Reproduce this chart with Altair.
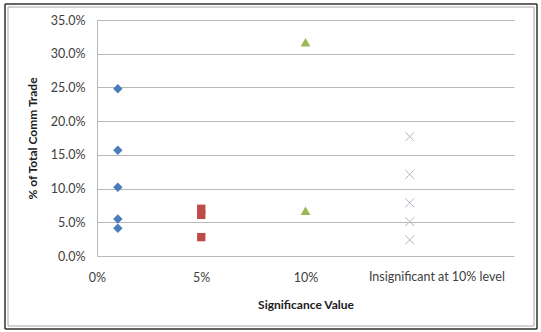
import altair as alt
import pandas as pd

# Share of total commodity trade, grouped by significance level
sig_1pct = [0.248, 0.157, 0.102, 0.055, 0.041]
sig_5pct = [0.070, 0.061, 0.028]
sig_10pct = [0.317, 0.067]
insignificant = [0.177, 0.121, 0.079, 0.051, 0.024]

y_ticks = [0, 0.05, 0.10, 0.15, 0.20, 0.25, 0.30, 0.35]
x_ticks = [0, 0.05, 0.10]

x_positions = {"1%": 0.01, "5%": 0.05, "10%": 0.10, "insig": 0.15}

def frame(vals, key):
    return pd.DataFrame({"sig": [x_positions[key]] * len(vals), "share": vals})

FONT = "Lato"
LABEL_SIZE = 12.5

x_scale = alt.Scale(domain=[0, 0.2], nice=False)
y_scale = alt.Scale(domain=[0, 0.35], nice=False)

x_enc = alt.X(
    "sig:Q", scale=x_scale,
    axis=alt.Axis(
        values=x_ticks,
        format=".0%", labelFlush=False, labelOverlap=False,
        grid=False, ticks=False, domain=False,
        labelPadding=15, labelFontSize=LABEL_SIZE, labelColor="#404040", labelFont=FONT,
        title="Significance Value", titleFont=FONT, titleFontSize=12,
        titleFontWeight="bold", titleColor="#202020", titlePadding=16,
    ),
)
y_enc = alt.Y(
    "share:Q", scale=y_scale,
    axis=alt.Axis(
        values=y_ticks,
        format=".1%", labelOverlap=False, labelFlush=False,
        grid=True, gridColor="#B8B8B8", gridWidth=1,
        ticks=False, domain=True, domainColor="#B8B8B8",
        labelPadding=12, labelFontSize=LABEL_SIZE, labelColor="#404040", labelFont=FONT,
        title="% of Total Comm Trade", titleFont=FONT, titleFontSize=12,
        titleFontWeight="bold", titleColor="#202020", titlePadding=11,
    ),
)

diamonds = alt.Chart(frame(sig_1pct, "1%")).mark_point(
    shape="diamond", filled=True, size=90, color="#4A7EBB", opacity=1
).encode(x=x_enc, y=y_enc)

squares = alt.Chart(frame(sig_5pct, "5%")).mark_point(
    shape="square", filled=True, size=70, color="#BE4B48", opacity=1
).encode(x=x_enc, y=y_enc)

triangles = alt.Chart(frame(sig_10pct, "10%")).mark_point(
    shape="triangle-up", filled=True, size=95, color="#98B954", opacity=1
).encode(x=x_enc, y=y_enc)

crosses = alt.Chart(frame(insignificant, "insig")).mark_point(
    shape="M-1,-1L1,1M1,-1L-1,1", filled=False, size=80, color="#B4B4C4",
    strokeWidth=1, opacity=1
).encode(x=x_enc, y=y_enc)

insig_label = alt.Chart(pd.DataFrame({"sig": [0.163], "label": ["Insignificant at 10% level"]})).mark_text(
    font=FONT, fontSize=LABEL_SIZE, color="#404040", baseline="middle", align="center"
).encode(x=x_enc, y=alt.value(21 + 236), text="label:N")

# Double border around the whole chart (offsets relative to the plot origin)
L, T, R, B = -92, -16, 440, 309
outer = []
for (x1, y1, x2, y2) in [(L, T, R, T), (L, B, R, B), (L, T, L, B), (R, T, R, B)]:
    outer.append(alt.Chart(pd.DataFrame({"a": [0]})).mark_rule(color="#303030", strokeWidth=1.5).encode(
        x=alt.value(x1), y=alt.value(y1), x2=alt.value(x2), y2=alt.value(y2)))
inner = []
for (x1, y1, x2, y2) in [(L + 3, T + 3, R - 3, T + 3), (L + 3, B - 3, R - 3, B - 3),
                         (L + 3, T + 3, L + 3, B - 3), (R - 3, T + 3, R - 3, B - 3)]:
    inner.append(alt.Chart(pd.DataFrame({"a": [0]})).mark_rule(color="#A8A8A8", strokeWidth=1).encode(
        x=alt.value(x1), y=alt.value(y1), x2=alt.value(x2), y2=alt.value(y2)))

chart = alt.layer(
    diamonds, squares, triangles, crosses, insig_label, *outer, *inner
).properties(
    width=417, height=236,
    autosize=alt.AutoSizeParams(type="none"),
    padding={"left": 97, "top": 20, "right": 27, "bottom": 76},
    background="white",
).configure_view(stroke=None)

chart.save("out.html", embed_options={"renderer": "svg", "actions": False})
